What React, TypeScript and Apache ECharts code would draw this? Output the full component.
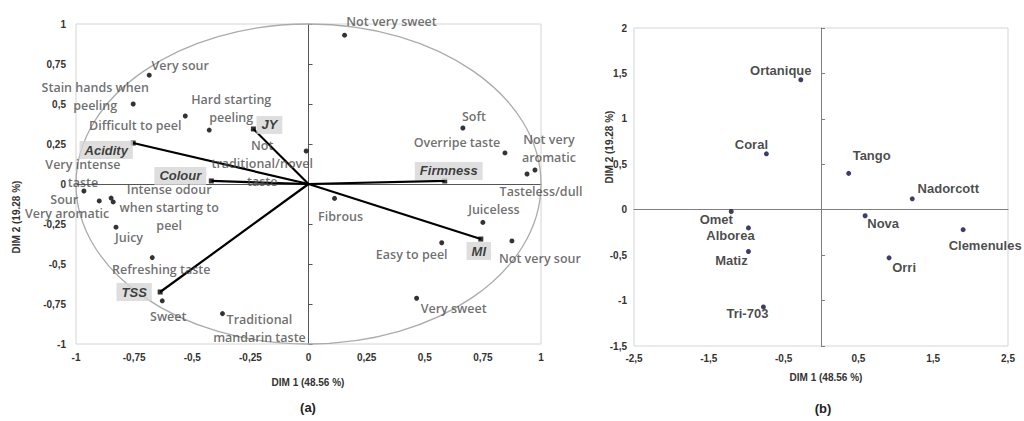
import React, { useEffect, useRef } from 'react';
import * as echarts from 'echarts';

// ---- Panel (a): sensory attributes (correlation circle) ----
const attributeNames = [
  'Very sour', 'Stain hands when\npeeling', 'Difficult to peel', 'Hard starting\npeeling',
  'Not\ntraditional/novel\ntaste', 'Very intense\ntaste', 'Sour', 'Very aromatic',
  'Intense odour\nwhen starting to\npeel', 'Juicy', 'Refreshing taste', 'Sweet',
  'Traditional\nmandarin taste', 'Not very sweet', 'Soft', 'Overripe taste',
  'Not very\naromatic', 'Tasteless/dull', 'Fibrous', 'Juiceless', 'Easy to peel',
  'Not very sour', 'Very sweet',
];
const attributeX = [-0.685, -0.754, -0.53, -0.427, -0.01, -0.966, -0.9, -0.849, -0.84, -0.828, -0.672, -0.629, -0.37, 0.155, 0.664, 0.845, 0.974, 0.94, 0.112, 0.75, 0.573, 0.875, 0.465];
const attributeY = [0.68, 0.5, 0.425, 0.337, 0.206, -0.044, -0.106, -0.088, -0.112, -0.27, -0.46, -0.73, -0.81, 0.93, 0.35, 0.194, 0.0875, 0.0625, -0.09, -0.24, -0.367, -0.356, -0.714];
const attributeLabelOffsets = [
  [31, -10], [-38, -8], [-50, 9], [22, -22], [-44, 12], [-1, -18], [-35, -1], [-44, 15],
  [56, 6], [13, 10], [9, 12], [6, 16], [37, 15], [47, -14], [11, -12], [-48, -10],
  [14, -22], [14, 17], [6, 18], [11, -13], [-30, 12], [28, 18], [37, 10],
];

const vectorNames = ['Acidity', 'JY', 'Colour', 'Firmness', 'TSS', 'MI'];
const vectorX = [-0.754, -0.237, -0.418, 0.586, -0.638, 0.741];
const vectorY = [0.256, 0.344, 0.019, 0.019, -0.675, -0.344];
const vectorLabelOffsets = [[-27, 7], [16, -4], [-31, -5], [4, -10], [-26, 0], [-2, 12]];

const circleCenter = [[0, 0]];

// ---- Panel (b): cultivars ----
const cultivarNames = ['Ortanique', 'Coral', 'Tango', 'Nadorcott', 'Omet', 'Alborea', 'Matiz', 'Tri-703', 'Nova', 'Orri', 'Clemenules'];
const cultivarX = [-0.27, -0.73, 0.37, 1.22, -1.2, -0.97, -0.97, -0.77, 0.59, 0.91, 1.9];
const cultivarY = [1.43, 0.615, 0.4, 0.12, -0.02, -0.2, -0.46, -1.07, -0.066, -0.53, -0.22];
const cultivarLabelOffsets = [[-20, -9], [-15, -9], [23, -18], [36, -10], [-15, 8], [-18, 8], [-17, 9], [-16, 7], [18, 8], [15, 10], [22, 16]];

const dimXName = 'DIM 1 (48.56 %)';
const dimYName = 'DIM 2 (19.28 %)';

const comma = (v: number) => String(v).replace('.', ',');

export default function App() {
  const ref = useRef<HTMLDivElement>(null);
  useEffect(() => {
    document.body.style.margin = '0';
    if (!ref.current) return;
    const chart = echarts.init(ref.current, null, { renderer: 'svg' });
    const tickFont = { fontFamily: 'Liberation Sans', fontWeight: 'bold' as const, fontSize: 10, color: '#333' };
    const labelAxisX = (gi: number, min: number, max: number, interval: number, margin: number, fmt: (v: number) => string) => ({
      type: 'value', gridIndex: gi, position: 'bottom', min, max, interval,
      axisLine: { show: false, onZero: false }, axisTick: { show: false }, splitLine: { show: false },
      axisLabel: { ...tickFont, margin, formatter: fmt },
    });
    const labelAxisY = (gi: number, min: number, max: number, interval: number, margin: number) => ({
      type: 'value', gridIndex: gi, position: 'left', min, max, interval,
      axisLine: { show: false, onZero: false }, axisTick: { show: false }, splitLine: { show: false },
      axisLabel: { ...tickFont, margin, formatter: comma },
    });
    const zeroAxisX = (gi: number, min: number, max: number, interval: number, other: number, color: string) => ({
      type: 'value', gridIndex: gi, position: 'top', min, max, interval,
      axisLine: { show: true, onZero: true, onZeroAxisIndex: other, lineStyle: { color, width: 1 } },
      axisTick: { show: false }, axisLabel: { show: false }, splitLine: { show: false },
    });
    const zeroAxisY = (gi: number, min: number, max: number, interval: number, other: number, color: string) => ({
      type: 'value', gridIndex: gi, position: 'right', min, max, interval,
      axisLine: { show: true, onZero: true, onZeroAxisIndex: other, lineStyle: { color, width: 1 } },
      axisTick: { show: true, length: 4, lineStyle: { color } }, axisLabel: { show: false }, splitLine: { show: false },
    });

    const attrLabelStyle = {
      fontFamily: 'Open Sans', fontWeight: 600 as const, fontSize: 12.5, color: '#4a4a4a', lineHeight: 18,
      align: 'center' as const, verticalAlign: 'middle' as const,
    };
    const nameStyle = { align: 'center', verticalAlign: 'middle', fontFamily: 'Liberation Sans', fontWeight: 'bold', fontSize: 10, fill: '#333' };

    chart.setOption({
      animation: false,
      grid: [
        { left: 76, top: 24, width: 465, height: 320, show: true, borderColor: '#d4d4d4', borderWidth: 1 },
        { left: 634, top: 28, width: 374, height: 318, show: true, borderColor: '#d4d4d4', borderWidth: 1 },
      ],
      xAxis: [
        labelAxisX(0, -1, 1, 0.25, 8, comma),
        zeroAxisX(0, -1, 1, 0.25, 0, '#555'),
        labelAxisX(1, -2.5, 2.5, 0.5, 7, (v: number) => (Math.round(v * 2) % 2 !== 0 ? comma(v) : '')),
        zeroAxisX(1, -2.5, 2.5, 0.5, 2, '#7f7f7f'),
      ],
      yAxis: [
        labelAxisY(0, -1, 1, 0.25, 10),
        zeroAxisY(0, -1, 1, 0.25, 0, '#555'),
        labelAxisY(1, -1.5, 2, 0.5, 7),
        zeroAxisY(1, -1.5, 2, 0.5, 2, '#7f7f7f'),
      ],
      graphic: [
        { type: 'text', x: 308, y: 382, style: { text: dimXName, ...nameStyle } },
        { type: 'text', x: 826, y: 377, style: { text: dimXName, ...nameStyle } },
        { type: 'text', x: 16, y: 217, rotation: Math.PI / 2, style: { text: dimYName, ...nameStyle } },
        { type: 'text', x: 609, y: 147, rotation: Math.PI / 2, style: { text: dimYName, ...nameStyle } },
        { type: 'text', x: 308, y: 407, style: { text: '(a)', ...nameStyle, fontSize: 13, fill: '#222' } },
        { type: 'text', x: 823, y: 408, style: { text: '(b)', ...nameStyle, fontSize: 13, fill: '#222' } },
      ],
      series: [
        {
          type: 'custom', xAxisIndex: 0, yAxisIndex: 0, data: circleCenter, silent: true, clip: false,
          renderItem: (params: any, api: any) => {
            const c = api.coord([api.value(0), api.value(1)]);
            const s = api.size([1, 1]);
            return { type: 'ellipse', shape: { cx: c[0], cy: c[1], rx: s[0], ry: s[1] }, style: { fill: 'none', stroke: '#ababab', lineWidth: 1.3 } };
          },
        },
        {
          type: 'lines', coordinateSystem: 'cartesian2d', xAxisIndex: 0, yAxisIndex: 0,
          lineStyle: { color: '#000', width: 2.2, opacity: 1 },
          data: vectorNames.map((n, i) => ({ name: n, coords: [[0, 0], [vectorX[i], vectorY[i]]] })),
        },
        {
          type: 'scatter', xAxisIndex: 0, yAxisIndex: 0, symbol: 'rect', symbolSize: 5,
          itemStyle: { color: '#000' },
          data: vectorNames.map((n, i) => ({
            name: n, value: [vectorX[i], vectorY[i]],
            label: {
              show: true, position: 'inside', offset: vectorLabelOffsets[i], formatter: n,
              backgroundColor: '#d6d6d6', padding: [3, 5, 2, 5], fontFamily: 'Liberation Sans',
              fontWeight: 'bold', fontStyle: 'italic', fontSize: 13, color: '#111',
              align: 'center', verticalAlign: 'middle',
            },
          })),
        },
        {
          type: 'scatter', xAxisIndex: 0, yAxisIndex: 0, symbolSize: 5,
          itemStyle: { color: '#000' },
          data: attributeNames.map((n, i) => ({
            name: n, value: [attributeX[i], attributeY[i]],
            label: { show: true, position: 'inside', offset: attributeLabelOffsets[i], formatter: n, ...attrLabelStyle },
          })),
        },
        {
          type: 'scatter', xAxisIndex: 2, yAxisIndex: 2, symbolSize: 5,
          itemStyle: { color: '#0d0d40' },
          data: cultivarNames.map((n, i) => ({
            name: n, value: [cultivarX[i], cultivarY[i]],
            label: {
              show: true, position: 'inside', offset: cultivarLabelOffsets[i], formatter: n,
              fontFamily: 'Liberation Sans', fontWeight: 'bold', fontSize: 13, color: '#1a1a1a',
              align: 'center', verticalAlign: 'middle',
            },
          })),
        },
      ],
    });
    return () => chart.dispose();
  }, []);
  return <div ref={ref} style={{ width: 1024, height: 421 }} />;
}
